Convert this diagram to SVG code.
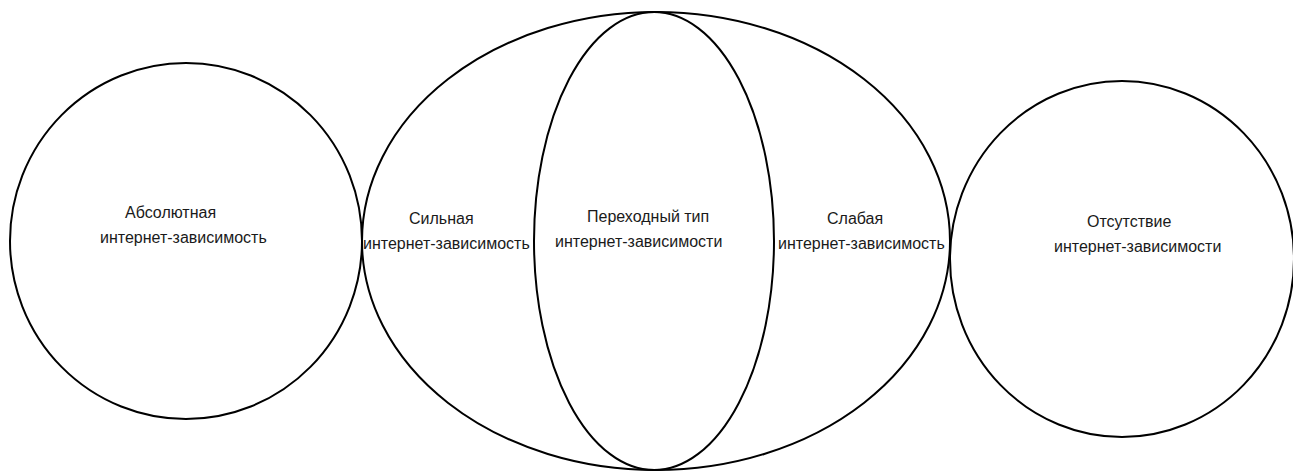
<svg xmlns="http://www.w3.org/2000/svg" width="1293" height="472" viewBox="0 0 1293 472">
  <style>
    .shape { fill: none; stroke: #000; stroke-width: 2; }
    .lbl { font-family: "Liberation Sans", Arial, sans-serif; font-size: 16px; fill: #1a1a1a; }
  </style>
  <rect x="0" y="0" width="1293" height="472" fill="#fff"/>
  <g id="node-absolute">
    <ellipse class="shape" cx="186" cy="241" rx="176" ry="178"/>
    <text class="lbl" x="125" y="218">Абсолютная</text>
    <text class="lbl" x="100" y="243">интернет-зависимость</text>
  </g>
  <g id="node-big">
    <ellipse class="shape" cx="656" cy="241" rx="294" ry="229"/>
  </g>
  <g id="node-strong">
    <text class="lbl" x="409" y="224">Сильная</text>
    <text class="lbl" x="363" y="249">интернет-зависимость</text>
  </g>
  <g id="node-transitional">
    <ellipse class="shape" cx="654" cy="241" rx="120" ry="229"/>
    <text class="lbl" x="587" y="222">Переходный тип</text>
    <text class="lbl" x="555" y="247">интернет-зависимости</text>
  </g>
  <g id="node-weak">
    <text class="lbl" x="827" y="224">Слабая</text>
    <text class="lbl" x="778" y="249">интернет-зависимость</text>
  </g>
  <g id="node-none">
    <ellipse class="shape" cx="1122" cy="259" rx="172" ry="178"/>
    <text class="lbl" x="1087" y="227">Отсутствие</text>
    <text class="lbl" x="1054" y="252">интернет-зависимости</text>
  </g>
  <g id="connectors"></g>
</svg>
